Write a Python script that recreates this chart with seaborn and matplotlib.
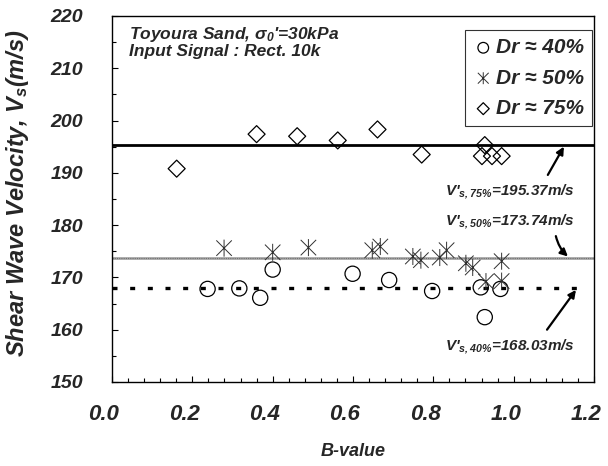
import numpy as np
import pandas as pd
import matplotlib
matplotlib.use("Agg")
import matplotlib.pyplot as plt
from matplotlib.path import Path
from matplotlib.ticker import MultipleLocator, FormatStrFormatter
from matplotlib.transforms import ScaledTranslation
import seaborn as sns

# B-value and shear wave velocity for each relative density
b_40 = [0.238, 0.317, 0.369, 0.400, 0.599, 0.690, 0.797, 0.918, 0.928, 0.967]
vs_40 = [167.8, 167.9, 166.1, 171.5, 170.7, 169.5, 167.4, 168.1, 162.4, 167.8]

b_50 = [0.279, 0.400, 0.489, 0.648, 0.668, 0.749, 0.769, 0.816, 0.833,
        0.881, 0.898, 0.931, 0.970, 0.970]
vs_50 = [175.6, 174.8, 175.7, 175.2, 175.9, 174.0, 173.3, 173.8, 175.2,
         172.7, 171.9, 169.2, 173.1, 169.3]

b_75 = [0.161, 0.360, 0.461, 0.562, 0.661, 0.771, 0.928, 0.921, 0.946, 0.970]
vs_75 = [190.8, 197.4, 197.0, 196.2, 198.3, 193.5, 195.3, 193.2, 193.2, 193.2]

# Mean velocities
mean_40 = 168.03
mean_50 = 173.74
mean_75 = 195.37
span_40 = [0.0, 1.165]

labels = ["Dr \u2248 40%", "Dr \u2248 50%", "Dr \u2248 75%"]

sns.set_theme(style="ticks")
plt.rcParams["font.family"] = ["Liberation Sans", "DejaVu Sans"]
plt.rcParams["font.weight"] = "bold"
plt.rcParams["font.style"] = "italic"
plt.rcParams["mathtext.fontset"] = "custom"
plt.rcParams["mathtext.rm"] = "Liberation Sans:bold:italic"
plt.rcParams["mathtext.it"] = "Liberation Sans:italic"
plt.rcParams["mathtext.bf"] = "Liberation Sans:bold:italic"

fig = plt.figure(figsize=(6.08, 4.66), dpi=100)
ax = fig.add_axes([0.1842, 0.1803, 0.7928, 0.7854])

# asterisk: X plus a vertical stroke
star = Path([(-1, -1), (1, 1), (-1, 1), (1, -1), (0, -1.1), (0, 1.1)],
            [Path.MOVETO, Path.LINETO, Path.MOVETO, Path.LINETO, Path.MOVETO, Path.LINETO])

ax.axhline(mean_75, color="black", lw=2.0, zorder=1)
ax.axhline(mean_50, color="#a8a8a8", lw=2.0, zorder=1)
ax.axhline(mean_50, color="#707070", lw=0.8, ls=(0, (1, 1)), zorder=1)
ax.plot(span_40, [mean_40, mean_40], color="black", lw=2.4,
        ls=(0, (1.5, 3.8)), zorder=1)

df40 = pd.DataFrame({"b": b_40, "vs": vs_40})
df50 = pd.DataFrame({"b": b_50, "vs": vs_50})
df75 = pd.DataFrame({"b": b_75, "vs": vs_75})

sns.scatterplot(data=df40, x="b", y="vs", marker="o", s=120, facecolor="none",
                edgecolor="black", linewidth=0.9, label=labels[0], ax=ax, zorder=3)
sns.scatterplot(data=df50, x="b", y="vs", marker=star, s=150, facecolor="none",
                edgecolor="#303030", linewidth=0.7, label=labels[1], ax=ax, zorder=3)
sns.scatterplot(data=df75, x="b", y="vs", marker="D", s=75, facecolor="none",
                edgecolor="black", linewidth=0.9, label=labels[2], ax=ax, zorder=3)

ax.set_xlim(0, 1.2)
ax.set_ylim(150, 220)
ax.xaxis.set_major_locator(MultipleLocator(0.2))
ax.xaxis.set_minor_locator(MultipleLocator(0.04))
ax.yaxis.set_major_locator(MultipleLocator(10))
ax.yaxis.set_minor_locator(MultipleLocator(5))
ax.xaxis.set_major_formatter(FormatStrFormatter("%.1f"))
ax.tick_params(which="both", direction="in", width=0.8, color="black")
ax.tick_params(which="major", length=4)
ax.tick_params(which="minor", length=3)
ax.tick_params(axis="x", which="major", pad=16, labelsize=16)
ax.tick_params(axis="y", which="major", pad=21, labelsize=14)
for sp in ax.spines.values():
    sp.set_linewidth(1.0)
    sp.set_color("black")

# x tick labels sit slightly left of their ticks
shift = ScaledTranslation(-0.08, 0, fig.dpi_scale_trans)
for lbl in ax.get_xticklabels():
    lbl.set_transform(lbl.get_transform() + shift)

ax.set_xlabel("B-value", fontsize=13, fontweight="bold", fontstyle="italic", labelpad=13)
ax.set_ylabel(r"Shear Wave Velocity, V$_{s}$(m/s)", fontsize=17, fontweight="bold",
              fontstyle="italic")
ax.yaxis.set_label_coords(-0.168, 0.515)

ax.text(0.035, 0.950, "Toyoura Sand, $\\sigma_0$'=30kPa", transform=ax.transAxes,
        fontsize=12.5, ha="left", va="center")
ax.text(0.035, 0.904, "Input Signal : Rect. 10k", transform=ax.transAxes,
        fontsize=12.5, ha="left", va="center")

ax.text(0.991, 186.3, "V'$_{s,75\\%}$=195.37m/s", fontsize=11, ha="center", va="center")
ax.text(0.991, 180.6, "V'$_{s,50\\%}$=173.74m/s", fontsize=11, ha="center", va="center")
ax.text(0.991, 156.7, "V'$_{s,40\\%}$=168.03m/s", fontsize=11, ha="center", va="center")

arrow = dict(arrowstyle="-|>", color="black", lw=1.6, mutation_scale=11, shrinkA=0, shrinkB=0)
ax.annotate("", xy=(1.125, 195.0), xytext=(1.085, 189.6), arrowprops=arrow)
ax.annotate("", xy=(1.135, 174.0), xytext=(1.105, 177.9),
            arrowprops=dict(arrow, connectionstyle="arc3,rad=0.15"))
ax.annotate("", xy=(1.155, 167.6), xytext=(1.083, 160.0), arrowprops=arrow)

leg = ax.legend(loc="upper right", bbox_to_anchor=(0.996, 0.962), borderaxespad=0,
                frameon=True, fancybox=False, edgecolor="black", fontsize=15,
                markerscale=0.7, handletextpad=0.1, handlelength=1.0,
                labelspacing=0.55, borderpad=0.4)
leg.get_frame().set_linewidth(0.8)

fig.savefig("out.png", dpi=100)
